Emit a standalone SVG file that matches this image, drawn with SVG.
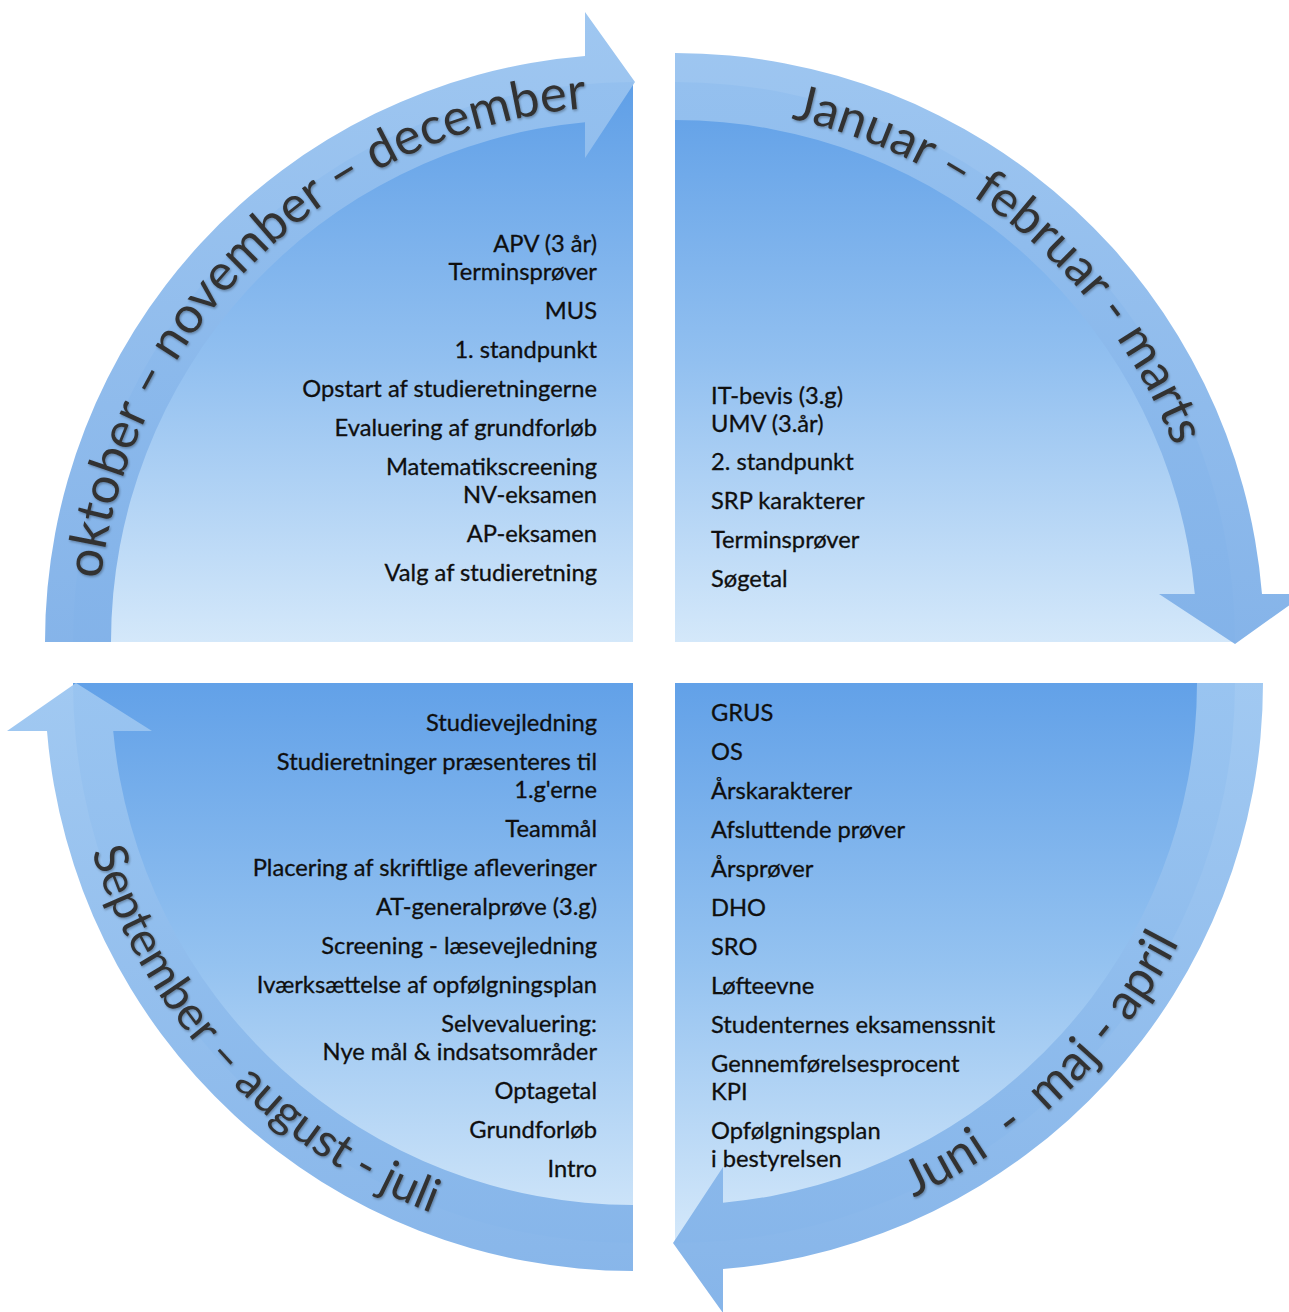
<svg xmlns="http://www.w3.org/2000/svg" width="1289" height="1312" viewBox="0 0 1289 1312">
<defs>
<linearGradient id="gTop" gradientUnits="userSpaceOnUse" x1="0" y1="82" x2="0" y2="642">
<stop offset="0" stop-color="#5f9fe7"/><stop offset="0.5" stop-color="#92c0f0"/><stop offset="1" stop-color="#d4e8fa"/>
</linearGradient>
<linearGradient id="gBot" gradientUnits="userSpaceOnUse" x1="0" y1="683" x2="0" y2="1243">
<stop offset="0" stop-color="#62a1e8"/><stop offset="0.5" stop-color="#94c2f0"/><stop offset="1" stop-color="#d4e8fa"/>
</linearGradient>
<linearGradient id="bTop" gradientUnits="userSpaceOnUse" x1="0" y1="10" x2="0" y2="642">
<stop offset="0" stop-color="#9ac4f0"/><stop offset="1" stop-color="#7fb0e8"/>
</linearGradient>
<linearGradient id="bBot" gradientUnits="userSpaceOnUse" x1="0" y1="683" x2="0" y2="1312">
<stop offset="0" stop-color="#9cc6f1"/><stop offset="1" stop-color="#80b1e8"/>
</linearGradient>
<path id="pTL" d="M 97,642 A 536 536 0 0 1 633,106"/>
<path id="pTR" d="M 675,106 A 536 536 0 0 1 1211,642"/>
<path id="pBL" d="M 66,683 A 567 567 0 0 0 633,1250"/>
<path id="pBR" d="M 675,1250 A 567 567 0 0 0 1242,683"/>
<filter id="sh" x="-10%" y="-10%" width="120%" height="120%">
<feDropShadow dx="1" dy="1.5" stdDeviation="1.2" flood-color="#000" flood-opacity="0.3"/>
</filter>
</defs>
<style>
.item{font-family:Lato,"Open Sans","Liberation Sans",sans-serif;font-size:23.7px;fill:#0f0f0f;stroke:#0f0f0f;stroke-width:0.3px}
.r{text-anchor:end}
.month{font-family:Lato,"Open Sans","Liberation Sans",sans-serif;font-size:50px;fill:#333333;filter:url(#sh)}
.band{opacity:0.95}
</style>
<rect width="1289" height="1312" fill="#ffffff"/>

<g id="node-okt-dec">
<path d="M 633,642 L 73,642 A 560 560 0 0 1 633,82 Z" fill="url(#gTop)"/>
<text class="item r" x="597" y="252">APV (3 år)</text>
<text class="item r" x="597" y="280">Terminsprøver</text>
<text class="item r" x="597" y="319">MUS</text>
<text class="item r" x="597" y="358">1. standpunkt</text>
<text class="item r" x="597" y="397">Opstart af studieretningerne</text>
<text class="item r" x="597" y="436">Evaluering af grundforløb</text>
<text class="item r" x="597" y="475">Matematikscreening</text>
<text class="item r" x="597" y="503">NV-eksamen</text>
<text class="item r" x="597" y="542">AP-eksamen</text>
<text class="item r" x="597" y="581">Valg af studieretning</text>
</g>

<g id="node-jan-mar">
<path d="M 675,642 L 675,82 A 560 560 0 0 1 1235,642 Z" fill="url(#gTop)"/>
<text class="item" x="711" y="404">IT-bevis (3.g)</text>
<text class="item" x="711" y="432">UMV (3.år)</text>
<text class="item" x="711" y="470">2. standpunkt</text>
<text class="item" x="711" y="509">SRP karakterer</text>
<text class="item" x="711" y="548">Terminsprøver</text>
<text class="item" x="711" y="587">Søgetal</text>
</g>

<g id="node-sep-jul">
<path d="M 633,683 L 633,1243 A 560 560 0 0 1 73,683 Z" fill="url(#gBot)"/>
<text class="item r" x="597" y="731">Studievejledning</text>
<text class="item r" x="597" y="770">Studieretninger præsenteres til</text>
<text class="item r" x="597" y="798">1.g'erne</text>
<text class="item r" x="597" y="837">Teammål</text>
<text class="item r" x="597" y="876">Placering af skriftlige afleveringer</text>
<text class="item r" x="597" y="915">AT-generalprøve (3.g)</text>
<text class="item r" x="597" y="954">Screening - læsevejledning</text>
<text class="item r" x="597" y="993">Iværksættelse af opfølgningsplan</text>
<text class="item r" x="597" y="1032">Selvevaluering:</text>
<text class="item r" x="597" y="1060">Nye mål &amp; indsatsområder</text>
<text class="item r" x="597" y="1099">Optagetal</text>
<text class="item r" x="597" y="1138">Grundforløb</text>
<text class="item r" x="597" y="1177">Intro</text>
</g>

<g id="node-apr-jun">
<path d="M 675,683 L 1235,683 A 560 560 0 0 1 675,1243 Z" fill="url(#gBot)"/>
<text class="item" x="711" y="721">GRUS</text>
<text class="item" x="711" y="760">OS</text>
<text class="item" x="711" y="799">Årskarakterer</text>
<text class="item" x="711" y="838">Afsluttende prøver</text>
<text class="item" x="711" y="877">Årsprøver</text>
<text class="item" x="711" y="916">DHO</text>
<text class="item" x="711" y="955">SRO</text>
<text class="item" x="711" y="994">Løfteevne</text>
<text class="item" x="711" y="1033">Studenternes eksamenssnit</text>
<text class="item" x="711" y="1072">Gennemførelsesprocent</text>
<text class="item" x="711" y="1100">KPI</text>
<text class="item" x="711" y="1139">Opfølgningsplan</text>
<text class="item" x="711" y="1167">i bestyrelsen</text>
</g>

<g id="connectors">
<path class="band" fill="url(#bTop)" d="M 45,642 A 588 588 0 0 1 585,56 L 585,12 L 635,82 L 585,158 L 585,122.2 A 522 522 0 0 0 111,642 Z"/>
<path class="band" fill="url(#bTop)" d="M 675,53 A 589 589 0 0 1 1262,594 L 1305,594 L 1235,644 L 1159,594 L 1194.8,594 A 522 522 0 0 0 675,120 Z"/>
<path class="band" fill="url(#bBot)" d="M 633,1271 A 588 588 0 0 1 47,731 L 7,731 L 76,683 L 152,731 L 113.2,731 A 522 522 0 0 0 633,1205 Z"/>
<path class="band" fill="url(#bBot)" d="M 1263,683 A 588 588 0 0 1 723,1269 L 723,1313 L 673,1243 L 723,1167 L 723,1202.8 A 522 522 0 0 0 1197,683 Z"/>
<text class="month" style="font-size:51px"><textPath href="#pTL" startOffset="63">oktober – november – december</textPath></text>
<text class="month"><textPath href="#pTR" startOffset="117">Januar – februar - marts</textPath></text>
<text class="month" style="font-size:47px"><textPath href="#pBL" startOffset="171">September – august - juli</textPath></text>
<text class="month" xml:space="preserve" style="white-space:pre"><textPath href="#pBR" startOffset="246">Juni  -  maj - april</textPath></text>
</g>
</svg>
